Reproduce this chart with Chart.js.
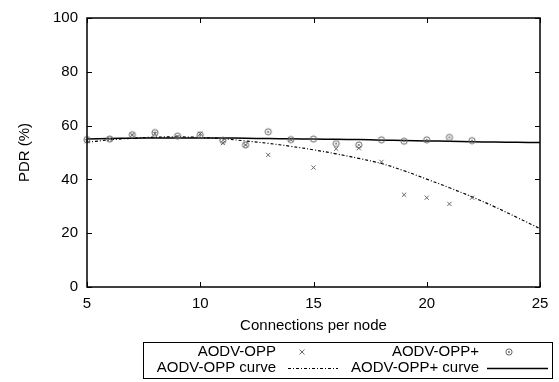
<!DOCTYPE html>
<html>
<head>
<meta charset="utf-8">
<script src="https://cdn.jsdelivr.net/npm/chart.js@4.4.1/dist/chart.umd.min.js"></script>
<style>
  html, body { margin: 0; padding: 0; background: #fff; }
  #wrap { width: 559px; height: 382px; }
</style>
</head>
<body>
<div id="wrap"><canvas id="pdrChart"></canvas></div>
<script>
// measured points
const connections = [5, 6, 7, 8, 9, 10, 11, 12, 13, 14, 15, 16, 17, 18, 19, 20, 21, 22];
const pdrOpp = [54.2, 55.0, 56.5, 57.0, 55.8, 57.0, 53.5, 52.8, 49.1, 54.8, 44.4, 51.4, 51.6, 46.5, 34.3, 33.2, 30.9, 33.2];
const pdrOppPlus = [54.8, 55.0, 56.6, 57.4, 56.1, 56.5, 54.5, 52.8, 57.7, 54.8, 55.0, 53.3, 52.8, 54.7, 54.2, 54.7, 55.6, 54.4];

// fitted curves
const curveX = [5, 6, 7, 8, 9, 10, 11, 12, 13, 14, 15, 16, 17, 18, 19, 20, 21, 22, 23, 24, 25];
const curveOpp = [53.8, 54.7, 55.3, 55.7, 55.8, 55.6, 55.1, 54.3, 53.4, 52.3, 51.0, 49.5, 47.8, 45.9, 43.2, 40.1, 36.9, 33.5, 29.8, 25.8, 21.7];
const curveOppPlus = [55.0, 55.2, 55.3, 55.4, 55.4, 55.4, 55.4, 55.3, 55.2, 55.1, 55.0, 54.9, 54.8, 54.6, 54.5, 54.3, 54.2, 54.0, 53.9, 53.8, 53.7];

const xTicks = [5, 10, 15, 20, 25];
const yTicks = [0, 20, 40, 60, 80, 100];

const FONT = "Liberation Sans, Arial, sans-serif";
const pointGray = "#666";

// circle with a dot in the middle (gnuplot style)
const circleDot = document.createElement("canvas");
circleDot.width = 10;
circleDot.height = 10;
(function () {
  const c = circleDot.getContext("2d");
  c.strokeStyle = pointGray;
  c.fillStyle = pointGray;
  c.lineWidth = 1;
  c.beginPath();
  c.arc(5, 5, 3.1, 0, Math.PI * 2);
  c.stroke();
  c.beginPath();
  c.arc(5, 5, 1, 0, Math.PI * 2);
  c.fill();
})();

const toXY = (xs, ys) => xs.map((x, i) => ({ x: x, y: ys[i] }));

const frame = {
  id: "frame",
  afterDraw(chart) {
    const ctx = chart.ctx;
    const a = chart.chartArea;
    const xs = chart.scales.x;
    const ys = chart.scales.y;
    ctx.save();
    ctx.strokeStyle = "#000";
    ctx.lineWidth = 1.5;
    ctx.strokeRect(a.left, a.top, a.right - a.left, a.bottom - a.top);
    ctx.lineWidth = 1;
    ctx.beginPath();
    xTicks.forEach((v) => {
      const px = Math.round(xs.getPixelForValue(v)) + 0.5;
      ctx.moveTo(px, a.bottom);
      ctx.lineTo(px, a.bottom - 5);
      ctx.moveTo(px, a.top);
      ctx.lineTo(px, a.top + 5);
    });
    yTicks.forEach((v) => {
      const py = Math.round(ys.getPixelForValue(v)) + 0.5;
      ctx.moveTo(a.left, py);
      ctx.lineTo(a.left + 5, py);
      ctx.moveTo(a.right, py);
      ctx.lineTo(a.right - 5, py);
    });
    ctx.stroke();

    // axis titles
    ctx.fillStyle = "#000";
    ctx.font = "15px " + FONT;
    ctx.textAlign = "center";
    ctx.textBaseline = "middle";
    ctx.fillText("Connections per node", (a.left + a.right) / 2, 326);
    ctx.save();
    ctx.translate(25, (a.top + a.bottom) / 2);
    ctx.rotate(-Math.PI / 2);
    ctx.fillText("PDR (%)", 0, 0);
    ctx.restore();

    // legend box, gnuplot layout: text then sample
    ctx.lineWidth = 1;
    ctx.strokeStyle = "#000";
    ctx.strokeRect(143.5, 342.5, 409, 36);
    const ds = chart.data.datasets;
    const cells = [
      { d: ds[0], tx: 276, sx: 288, row: 352 },
      { d: ds[1], tx: 479, sx: 487, row: 352 },
      { d: ds[2], tx: 276, sx: 288, row: 368 },
      { d: ds[3], tx: 479, sx: 487, row: 368 },
    ];
    ctx.textAlign = "right";
    cells.forEach((c) => {
      ctx.fillStyle = "#000";
      ctx.fillText(c.d.label, c.tx, c.row);
      if (c.d.showLine === false) {
        if (c.d.pointStyle === "crossRot") {
          const cx = c.sx + 14;
          ctx.strokeStyle = pointGray;
          ctx.beginPath();
          ctx.moveTo(cx - 2.5, c.row - 2.5);
          ctx.lineTo(cx + 2.5, c.row + 2.5);
          ctx.moveTo(cx + 2.5, c.row - 2.5);
          ctx.lineTo(cx - 2.5, c.row + 2.5);
          ctx.stroke();
        } else {
          ctx.drawImage(circleDot, c.sx + 22 - 5, c.row - 5);
        }
      } else {
        const sw = c.d.borderDash ? 50 : 61;
        ctx.strokeStyle = "#000";
        ctx.lineWidth = c.d.borderWidth;
        ctx.setLineDash(c.d.borderDash || []);
        ctx.beginPath();
        ctx.moveTo(c.sx, c.row + 0.5);
        ctx.lineTo(c.sx + sw, c.row + 0.5);
        ctx.stroke();
        ctx.setLineDash([]);
        ctx.lineWidth = 1;
      }
    });
    ctx.restore();
  },
};

new Chart(document.getElementById("pdrChart"), {
  type: "line",
  data: {
    datasets: [
      {
        label: "AODV-OPP",
        data: toXY(connections, pdrOpp),
        showLine: false,
        clip: false,
        pointStyle: "crossRot",
        pointRadius: 3,
        borderColor: pointGray,
        borderWidth: 1,
      },
      {
        label: "AODV-OPP+",
        data: toXY(connections, pdrOppPlus),
        showLine: false,
        clip: false,
        pointStyle: circleDot,
        pointRadius: 4,
        borderColor: pointGray,
      },
      {
        label: "AODV-OPP curve",
        data: toXY(curveX, curveOpp),
        borderColor: "#000",
        borderWidth: 1.2,
        borderDash: [3, 2, 1, 2],
        pointRadius: 0,
        tension: 0.4,
        fill: false,
      },
      {
        label: "AODV-OPP+ curve",
        data: toXY(curveX, curveOppPlus),
        borderColor: "#000",
        borderWidth: 1.5,
        pointRadius: 0,
        tension: 0.4,
        fill: false,
      },
    ],
  },
  options: {
    responsive: true,
    maintainAspectRatio: false,
    animation: false,
    layout: { padding: { left: 0, right: 19, top: 12, bottom: 65 } },
    plugins: { legend: { display: false }, tooltip: { enabled: false } },
    scales: {
      x: {
        type: "linear",
        min: 5,
        max: 25,
        afterBuildTicks: (s) => { s.ticks = xTicks.map((v) => ({ value: v })); },
        afterFit: (s) => { s.height = 30; },
        grid: { display: false, drawTicks: false },
        border: { display: false },
        ticks: { color: "#000", padding: 8, font: { family: FONT, size: 15 } },
      },
      y: {
        min: 0,
        max: 100,
        afterBuildTicks: (s) => { s.ticks = yTicks.map((v) => ({ value: v })); },
        afterFit: (s) => { s.width = 87; },
        grid: { display: false, drawTicks: false },
        border: { display: false },
        ticks: { color: "#000", padding: 9, font: { family: FONT, size: 15 } },
      },
    },
  },
  plugins: [frame],
});
</script>
</body>
</html>
